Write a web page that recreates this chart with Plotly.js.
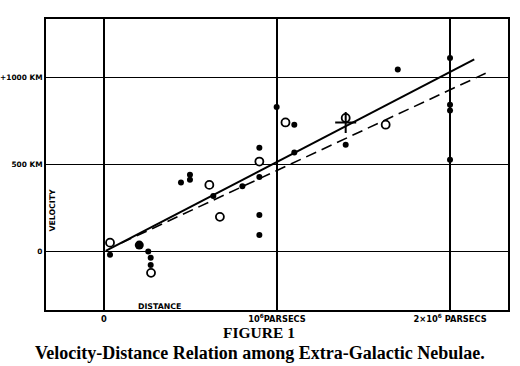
<!DOCTYPE html>
<html>
<head>
<meta charset="utf-8">
<script src="https://cdn.plot.ly/plotly-3.0.1.min.js"></script>
<style>html,body{margin:0;padding:0;background:#fff;}#chart{width:520px;height:366px;}</style>
</head>
<body>
<div id="chart"></div>
<script>
// Distances in units of 10^6 parsecs, velocities in km/s
const filledDist = [0.035, 0.256, 0.27, 0.27, 0.445, 0.497, 0.497, 0.632, 0.80, 0.898, 0.898, 0.898, 0.898, 0.998, 1.10, 1.10, 1.397, 1.698, 2.0, 2.0, 2.0, 2.0];
const filledVel  = [-17, 2, -34, -76, 397, 441, 412, 320, 376, 596, 428, 211, 96, 830, 728, 569, 613, 1044, 1111, 843, 810, 527];
const bigDist = [0.204];
const bigVel  = [38];
const openDist = [0.035, 0.272, 0.609, 0.67, 0.898, 1.049, 1.397, 1.628];
const openVel  = [52, -121, 383, 200, 517, 741, 767, 728];
const crossDist = [1.397];
const crossVel  = [741];
const solidDist = [0.01, 2.14];
const solidVel  = [5, 1102];
const dashDist = [0.1, 2.21];
const dashVel  = [50, 1025];
const xTickVals = [0, 1, 2];
const xTickText = ['0', '10<sup>6</sup>PARSECS', '2\u00d710<sup>6</sup> PARSECS'];
const yTickVals = [0, 500, 1000];
const yTickText = ['0', '500 KM', '+1000 KM'];

const lbl = {family: 'DejaVu Sans', size: 7.8, color: '#000', weight: 'bold'};
const ylbl = {family: 'DejaVu Sans', size: 7.4, color: '#000', weight: 'bold'};
const xlbl = {family: 'DejaVu Sans', size: 8.3, color: '#000', weight: 'bold'};

const traces = [
  {x: solidDist, y: solidVel, mode: 'lines', line: {color: '#000', width: 2}, hoverinfo: 'skip'},
  {x: dashDist, y: dashVel, mode: 'lines', line: {color: '#000', width: 1.6, dash: '11px,6px'}, hoverinfo: 'skip'},
  {x: filledDist, y: filledVel, mode: 'markers', marker: {color: '#000', size: 6}},
  {x: bigDist, y: bigVel, mode: 'markers', marker: {color: '#000', size: 9}},
  {x: openDist, y: openVel, mode: 'markers', marker: {color: '#fff', size: 8, line: {color: '#000', width: 1.8}}},
  {x: crossDist, y: crossVel, mode: 'markers', marker: {symbol: 'cross-thin-open', color: '#000', size: 15, line: {color: '#000', width: 2}}}
];

const layout = {
  width: 520, height: 366,
  margin: {l: 46, r: 12, t: 19, b: 56},
  paper_bgcolor: '#fff', plot_bgcolor: '#fff',
  showlegend: false,
  xaxis: {
    range: [-0.335, 2.335], tickvals: xTickVals, ticktext: xTickText,
    showgrid: true, gridcolor: '#000', gridwidth: 1.5, zeroline: false,
    showline: true, mirror: true, linecolor: '#000', linewidth: 2,
    ticks: '', tickfont: xlbl
  },
  yaxis: {
    range: [-334, 1334], tickvals: yTickVals, ticktext: yTickText,
    showgrid: true, gridcolor: '#000', gridwidth: 1.5, zeroline: false,
    showline: true, mirror: true, linecolor: '#000', linewidth: 2,
    ticks: '', tickfont: ylbl
  },
  annotations: [
    {text: 'VELOCITY', xref: 'paper', yref: 'paper', x: 0.0145, y: 0.344, xanchor: 'center', yanchor: 'middle',
     textangle: -90, showarrow: false, font: lbl},
    {text: 'DISTANCE', xref: 'paper', yref: 'paper', x: 0.245, y: 0.0137, xanchor: 'center', yanchor: 'middle',
     showarrow: false, font: lbl},
    {text: 'FIGURE 1', xref: 'paper', yref: 'paper', x: 0.46, y: -0.079, xanchor: 'center', yanchor: 'middle', showarrow: false,
     font: {family: 'Liberation Serif', size: 15.5, color: '#000', weight: 'bold'}},
    {text: 'Velocity-Distance Relation among Extra-Galactic Nebulae.', xref: 'paper', yref: 'paper', x: 0.463, y: -0.148,
     xanchor: 'center', yanchor: 'middle', showarrow: false,
     font: {family: 'Liberation Serif', size: 18, color: '#000', weight: 'bold'}}
  ]
};

Plotly.newPlot('chart', traces, layout, {staticPlot: true, displayModeBar: false});
</script>
</body>
</html>
